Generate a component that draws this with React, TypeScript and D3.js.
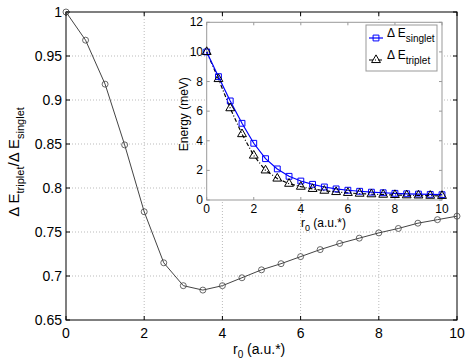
import React, { useRef, useEffect } from 'react';
import * as d3 from 'd3';

// r0 values (a.u.*)
const r0 = [0, 0.5, 1, 1.5, 2, 2.5, 3, 3.5, 4, 4.5, 5, 5.5, 6, 6.5, 7, 7.5, 8, 8.5, 9, 9.5, 10];
// ratio dE_triplet / dE_singlet
const ratio = [1.0, 0.968, 0.918, 0.849, 0.773, 0.715, 0.689, 0.684, 0.689, 0.698, 0.707, 0.714, 0.722, 0.730, 0.737, 0.743, 0.749, 0.754, 0.760, 0.764, 0.768];
// inset energies (meV)
const singlet = [10, 8.33, 6.69, 5.18, 3.83, 2.79, 2.1, 1.6, 1.28, 1.06, 0.88, 0.75, 0.66, 0.59, 0.53, 0.49, 0.45, 0.42, 0.40, 0.38, 0.36];
const triplet = [10, 8.17, 6.2, 4.45, 3.0, 2.0, 1.45, 1.1, 0.9, 0.75, 0.63, 0.54, 0.48, 0.43, 0.39, 0.36, 0.34, 0.32, 0.31, 0.29, 0.28];

const mainXTicks = [0, 2, 4, 6, 8, 10];
const mainYTicks = [0.65, 0.7, 0.75, 0.8, 0.85, 0.9, 0.95, 1];
const insetXTicks = [0, 2, 4, 6, 8, 10];
const insetYTicks = [0, 2, 4, 6, 8, 10, 12];

const FONT = 'Liberation Sans, Arial, sans-serif';

export default function App() {
  const svgRef = useRef<SVGSVGElement>(null);

  useEffect(() => {
    const svg = d3.select(svgRef.current);
    svg.selectAll('*').remove();

    // main axes
    const x = d3.scaleLinear().domain([0, 10]).range([66, 457]);
    const y = d3.scaleLinear().domain([0.65, 1]).range([320, 12]);

    const main = svg.append('g');

    // grid
    main.selectAll('line.gx')
      .data(mainXTicks.slice(1, -1))
      .enter().append('line')
      .attr('x1', d => x(d)).attr('x2', d => x(d))
      .attr('y1', y(0.65)).attr('y2', y(1))
      .attr('stroke', '#bbb').attr('stroke-dasharray', '1,2');
    main.selectAll('line.gy')
      .data(mainYTicks.slice(1, -1))
      .enter().append('line')
      .attr('y1', d => y(d)).attr('y2', d => y(d))
      .attr('x1', x(0)).attr('x2', x(10))
      .attr('stroke', '#bbb').attr('stroke-dasharray', '1,2');

    // ticks inward on all sides
    mainXTicks.forEach(t => {
      main.append('line').attr('x1', x(t)).attr('x2', x(t)).attr('y1', y(0.65)).attr('y2', y(0.65) - 4).attr('stroke', '#000');
      main.append('line').attr('x1', x(t)).attr('x2', x(t)).attr('y1', y(1)).attr('y2', y(1) + 4).attr('stroke', '#000');
    });
    mainYTicks.forEach(t => {
      main.append('line').attr('y1', y(t)).attr('y2', y(t)).attr('x1', x(0)).attr('x2', x(0) + 4).attr('stroke', '#000');
      main.append('line').attr('y1', y(t)).attr('y2', y(t)).attr('x1', x(10)).attr('x2', x(10) - 4).attr('stroke', '#000');
    });

    // tick labels
    main.selectAll('text.xl')
      .data(mainXTicks)
      .enter().append('text')
      .attr('x', d => x(d)).attr('y', 338)
      .attr('text-anchor', 'middle')
      .attr('font-family', FONT).attr('font-size', 14)
      .text(d => d3.format('d')(d));
    main.selectAll('text.yl')
      .data(mainYTicks)
      .enter().append('text')
      .attr('x', 62).attr('y', d => y(d) + 5)
      .attr('text-anchor', 'end')
      .attr('font-family', FONT).attr('font-size', 14)
      .text(d => (d === 1 ? '1' : String(d)));

    // frame
    main.append('rect')
      .attr('x', x(0)).attr('y', y(1))
      .attr('width', x(10) - x(0)).attr('height', y(0.65) - y(1))
      .attr('fill', 'none').attr('stroke', '#000');

    // ratio curve
    const pts = r0.map((r, i) => [r, ratio[i]] as [number, number]);
    main.append('path')
      .datum(pts)
      .attr('fill', 'none').attr('stroke', '#444').attr('stroke-width', 1)
      .attr('d', d3.line<[number, number]>().x(d => x(d[0])).y(d => y(d[1])));
    main.selectAll('circle.pt')
      .data(pts)
      .enter().append('circle')
      .attr('cx', d => x(d[0])).attr('cy', d => y(d[1])).attr('r', 3)
      .attr('fill', 'none').attr('stroke', '#444').attr('stroke-width', 0.8);

    // axis labels
    const xl = main.append('text')
      .attr('x', 233).attr('y', 354)
      .attr('font-family', FONT).attr('font-size', 14);
    xl.append('tspan').text('r');
    xl.append('tspan').attr('dy', 4).attr('font-size', 10).text('0');
    xl.append('tspan').attr('dy', -4).text(' (a.u.*)');

    const yl = main.append('text')
      .attr('transform', 'translate(19,162) rotate(-90)')
      .attr('text-anchor', 'middle')
      .attr('font-family', FONT).attr('font-size', 15);
    yl.append('tspan').text('\u0394 E');
    yl.append('tspan').attr('dy', 5).attr('font-size', 11).text('triplet');
    yl.append('tspan').attr('dy', -5).text('/\u0394 E');
    yl.append('tspan').attr('dy', 5).attr('font-size', 11).text('singlet');

    // inset
    const ix = d3.scaleLinear().domain([0, 10]).range([206.7, 442]);
    const iy = d3.scaleLinear().domain([0, 12]).range([200, 22.3]);
    const inset = svg.append('g');

    inset.append('rect')
      .attr('x', ix(0)).attr('y', iy(12))
      .attr('width', ix(10) - ix(0)).attr('height', iy(0) - iy(12))
      .attr('fill', '#fff').attr('stroke', '#999');

    insetXTicks.forEach(t => {
      inset.append('line').attr('x1', ix(t)).attr('x2', ix(t)).attr('y1', iy(0)).attr('y2', iy(0) - 3).attr('stroke', '#999');
      inset.append('line').attr('x1', ix(t)).attr('x2', ix(t)).attr('y1', iy(12)).attr('y2', iy(12) + 3).attr('stroke', '#999');
    });
    insetYTicks.forEach(t => {
      inset.append('line').attr('y1', iy(t)).attr('y2', iy(t)).attr('x1', ix(0)).attr('x2', ix(0) + 3).attr('stroke', '#999');
      inset.append('line').attr('y1', iy(t)).attr('y2', iy(t)).attr('x1', ix(10)).attr('x2', ix(10) - 3).attr('stroke', '#999');
    });

    inset.selectAll('text.ixl')
      .data(insetXTicks)
      .enter().append('text')
      .attr('x', d => ix(d)).attr('y', 213)
      .attr('text-anchor', 'middle')
      .attr('font-family', FONT).attr('font-size', 12)
      .text(d => String(d));
    inset.selectAll('text.iyl')
      .data(insetYTicks)
      .enter().append('text')
      .attr('x', 203).attr('y', d => iy(d) + 4)
      .attr('text-anchor', 'end')
      .attr('font-family', FONT).attr('font-size', 12)
      .text(d => String(d));

    const ixl = inset.append('text')
      .attr('x', 301).attr('y', 227)
      .attr('font-family', FONT).attr('font-size', 12);
    ixl.append('tspan').text('r');
    ixl.append('tspan').attr('dy', 4).attr('font-size', 9).text('0');
    ixl.append('tspan').attr('dy', -4).text(' (a.u.*)');

    inset.append('text')
      .attr('transform', `translate(188,${(iy(0) + iy(12)) / 2 + 3}) rotate(-90)`)
      .attr('text-anchor', 'middle')
      .attr('font-family', FONT).attr('font-size', 12)
      .text('Energy (meV)');

    const sPts = r0.map((r, i) => [r, singlet[i]] as [number, number]);
    const tPts = r0.map((r, i) => [r, triplet[i]] as [number, number]);
    const iline = d3.line<[number, number]>().x(d => ix(d[0])).y(d => iy(d[1]));

    inset.append('path').datum(tPts)
      .attr('fill', 'none').attr('stroke', '#000').attr('stroke-width', 1.2)
      .attr('stroke-dasharray', '4,2,1,2')
      .attr('d', iline);
    inset.append('path').datum(sPts)
      .attr('fill', 'none').attr('stroke', '#0000ff').attr('stroke-width', 1.2)
      .attr('d', iline);

    const sq = d3.symbol().type(d3.symbolSquare).size(34);
    const tri = d3.symbol().type(d3.symbolTriangle).size(34);

    inset.selectAll('path.sq')
      .data(sPts)
      .enter().append('path')
      .attr('d', sq as any)
      .attr('transform', d => `translate(${ix(d[0])},${iy(d[1])})`)
      .attr('fill', 'none').attr('stroke', '#0000ff').attr('stroke-width', 1);
    inset.selectAll('path.tri')
      .data(tPts)
      .enter().append('path')
      .attr('d', tri as any)
      .attr('transform', d => `translate(${ix(d[0])},${iy(d[1])})`)
      .attr('fill', 'none').attr('stroke', '#000').attr('stroke-width', 1);

    // legend
    const lg = inset.append('g');
    lg.append('rect')
      .attr('x', 366).attr('y', 25).attr('width', 71).attr('height', 46)
      .attr('fill', '#fff').attr('stroke', '#999');
    const entries = [
      { label: 'singlet', color: '#0000ff', dash: null, sym: sq, yy: 38 },
      { label: 'triplet', color: '#000', dash: '4,2,1,2', sym: tri, yy: 60 },
    ];
    entries.forEach(e => {
      lg.append('line')
        .attr('x1', 369).attr('x2', 383).attr('y1', e.yy).attr('y2', e.yy)
        .attr('stroke', e.color).attr('stroke-width', 1.2)
        .attr('stroke-dasharray', e.dash);
      lg.append('path')
        .attr('d', e.sym as any)
        .attr('transform', `translate(376,${e.yy})`)
        .attr('fill', 'none').attr('stroke', e.color);
      const t = lg.append('text')
        .attr('x', 387).attr('y', e.yy - 1)
        .attr('font-family', FONT).attr('font-size', 12);
      t.append('tspan').text('\u0394 E');
      t.append('tspan').attr('dy', 5).attr('font-size', 10).text(e.label);
    });
  }, []);

  return (
    <div>
      <svg ref={svgRef} width={469} height={363}
        style={{ position: 'absolute', left: 0, top: 0, background: '#fff' }} />
    </div>
  );
}
